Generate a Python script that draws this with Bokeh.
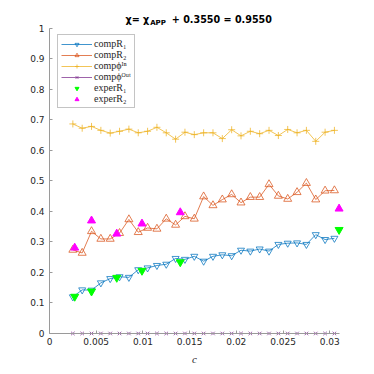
from bokeh.plotting import figure
from bokeh.models import Range1d, FixedTicker, Label, Legend, LegendItem
from bokeh.embed import file_html
from bokeh.resources import INLINE

# ---------------- data ----------------
c_comp = [0.0025, 0.0035, 0.0045, 0.0055, 0.0065, 0.0075, 0.0085, 0.0095, 0.0105, 0.0115,
          0.0125, 0.0135, 0.0145, 0.0155, 0.0165, 0.0175, 0.0185, 0.0195, 0.0205, 0.0215,
          0.0225, 0.0235, 0.0245, 0.0255, 0.0265, 0.0275, 0.0285, 0.0295, 0.0305]
comp_R1 = [0.120, 0.143, 0.142, 0.166, 0.180, 0.186, 0.184, 0.209, 0.215, 0.223,
           0.227, 0.246, 0.243, 0.253, 0.237, 0.253, 0.258, 0.255, 0.273, 0.270,
           0.277, 0.270, 0.292, 0.296, 0.297, 0.292, 0.324, 0.308, 0.312]
comp_R2 = [0.274, 0.264, 0.335, 0.310, 0.310, 0.329, 0.374, 0.332, 0.346, 0.343,
           0.376, 0.356, 0.384, 0.376, 0.449, 0.420, 0.439, 0.456, 0.429, 0.447,
           0.447, 0.489, 0.451, 0.441, 0.463, 0.493, 0.439, 0.468, 0.469]
comp_phi_in = [0.687, 0.673, 0.679, 0.666, 0.657, 0.663, 0.670, 0.658, 0.663, 0.676,
               0.658, 0.637, 0.660, 0.652, 0.658, 0.658, 0.639, 0.668, 0.648, 0.663,
               0.655, 0.666, 0.649, 0.669, 0.658, 0.666, 0.630, 0.660, 0.666]
comp_phi_out = [0.0, 0.0, 0.0, 0.0, 0.0, 0.0, 0.0, 0.0, 0.0, 0.0,
                0.0, 0.0, 0.0, 0.0, 0.0, 0.0, 0.0, 0.0, 0.0, 0.0,
                0.0, 0.0, 0.0, 0.0, 0.0, 0.0, 0.0, 0.0, 0.0]
c_exper = [0.0027, 0.0045, 0.0072, 0.0099, 0.0140, 0.0310]
exper_R1 = [0.121, 0.138, 0.183, 0.206, 0.234, 0.340]
exper_R2 = [0.281, 0.370, 0.327, 0.360, 0.397, 0.409]

x_ticks = [0.0, 0.005, 0.01, 0.015, 0.02, 0.025, 0.03]
x_tick_labels = ["0", "0.005", "0.01", "0.015", "0.02", "0.025", "0.03"]
y_ticks = [0.0, 0.1, 0.2, 0.3, 0.4, 0.5, 0.6, 0.7, 0.8, 0.9, 1.0]
y_tick_labels = ["0", "0.1", "0.2", "0.3", "0.4", "0.5", "0.6", "0.7", "0.8", "0.9", "1"]

labels = ["compR\u2081", "compR\u2082", "comp\u03d5\u1d35\u207f", "comp\u03d5\u1d3c\u1d58\u1d57",
          "experR\u2081", "experR\u2082"]
title_parts = ["\u03c7= \u03c7", "APP", "+ 0.3550 = 0.9550"]
x_label = "c"

# ---------------- figure ----------------
BLUE, ORANGE, YELLOW, PURPLE = "#0072BD", "#D95319", "#EDB120", "#7E2F8E"
AXIS = "#9a9a9a"
TXT = "#262626"
ALPHA = 0.75

p = figure(width=374, height=374, output_backend="svg", toolbar_location=None, title=None,
           x_range=Range1d(-0.00503, 0.0319), y_range=Range1d(-0.1279, 1.0852),
           min_border_left=2, min_border_right=27, min_border_top=2, min_border_bottom=2)
p.outline_line_color = None
p.grid.visible = False
p.background_fill_color = "white"
p.border_fill_color = "white"

for ax in (p.xaxis[0], p.yaxis[0]):
    ax.axis_line_color = AXIS
    ax.major_tick_line_color = AXIS
    ax.major_tick_in = 3
    ax.major_tick_out = 0
    ax.minor_tick_line_color = None
    ax.major_label_text_font = "DejaVu Sans"
    ax.major_label_text_font_size = "9px"
    ax.major_label_text_color = TXT
    ax.major_label_standoff = 5
    ax.fixed_location = 0

p.xaxis.ticker = FixedTicker(ticks=x_ticks)
p.xaxis.major_label_overrides = {t: s for t, s in zip(x_ticks, x_tick_labels)}
p.xaxis.bounds = (0, 0.031)
p.xaxis.axis_label = x_label
p.xaxis.axis_label_text_font = "Liberation Serif"
p.xaxis.axis_label_text_font_size = "11px"
p.xaxis.axis_label_text_font_style = "italic"
p.xaxis.axis_label_text_color = TXT
p.xaxis.axis_label_standoff = 4
p.yaxis.ticker = FixedTicker(ticks=y_ticks)
p.yaxis.major_label_overrides = {t: s for t, s in zip(y_ticks, y_tick_labels)}
p.yaxis.bounds = (0, 1)

l1 = p.line(c_comp, comp_R1, line_color=BLUE, line_width=1, line_alpha=ALPHA)
s1 = p.scatter(c_comp, comp_R1, marker="inverted_triangle", size=7, line_color=BLUE,
               fill_color=None, line_width=1, line_alpha=ALPHA)
l2 = p.line(c_comp, comp_R2, line_color=ORANGE, line_width=1, line_alpha=ALPHA)
s2 = p.scatter(c_comp, comp_R2, marker="triangle", size=8, line_color=ORANGE,
               fill_color=None, line_width=1, line_alpha=ALPHA)
l3 = p.line(c_comp, comp_phi_in, line_color=YELLOW, line_width=1, line_alpha=ALPHA)
s3 = p.scatter(c_comp, comp_phi_in, marker="cross", size=7, line_color=YELLOW, line_width=1,
               line_alpha=ALPHA)
l4 = p.line(c_comp, comp_phi_out, line_color=PURPLE, line_width=1, line_alpha=ALPHA)
s4 = p.scatter(c_comp, comp_phi_out, marker="x", size=5, line_color=PURPLE, line_width=1,
               line_alpha=ALPHA)
s5 = p.scatter(c_exper, exper_R1, marker="inverted_triangle", size=8, line_color="#00FF00",
               fill_color="#00FF00")
s6 = p.scatter(c_exper, exper_R2, marker="triangle", size=8, line_color="#FF00FF",
               fill_color="#FF00FF")

legend = Legend(items=[
    LegendItem(label=labels[0], renderers=[l1, s1]),
    LegendItem(label=labels[1], renderers=[l2, s2]),
    LegendItem(label=labels[2], renderers=[l3, s3]),
    LegendItem(label=labels[3], renderers=[l4, s4]),
    LegendItem(label=labels[4], renderers=[s5]),
    LegendItem(label=labels[5], renderers=[s6]),
], location=(55, 264), margin=0, padding=3, spacing=0, glyph_width=31, glyph_height=10,
    label_height=10, label_standoff=2, label_text_font="Liberation Serif",
    label_text_font_size="10px", label_text_color=TXT, border_line_color="#8a8a8a",
    border_line_width=1, background_fill_color="white", background_fill_alpha=1.0)
p.add_layout(legend, "center")

# title made of pieces (subscript), positioned relative to the frame
title_font = "DejaVu Sans"
p.add_layout(Label(x=146.7, y=352.7, x_units="screen", y_units="screen", text=title_parts[0],
                   text_font=title_font, text_font_size="9.6px", text_font_style="bold",
                   text_color="black", text_baseline="alphabetic", text_align="right"))
p.add_layout(Label(x=147.7, y=349.3, x_units="screen", y_units="screen", text=title_parts[1],
                   text_font=title_font, text_font_size="7px", text_font_style="bold",
                   text_color="black", text_baseline="alphabetic", text_align="left"))
p.add_layout(Label(x=169.3, y=352.7, x_units="screen", y_units="screen", text=title_parts[2],
                   text_font=title_font, text_font_size="9.6px", text_font_style="bold",
                   text_color="black", text_baseline="alphabetic", text_align="left"))

open("out.html", "w").write(file_html(p, INLINE))
